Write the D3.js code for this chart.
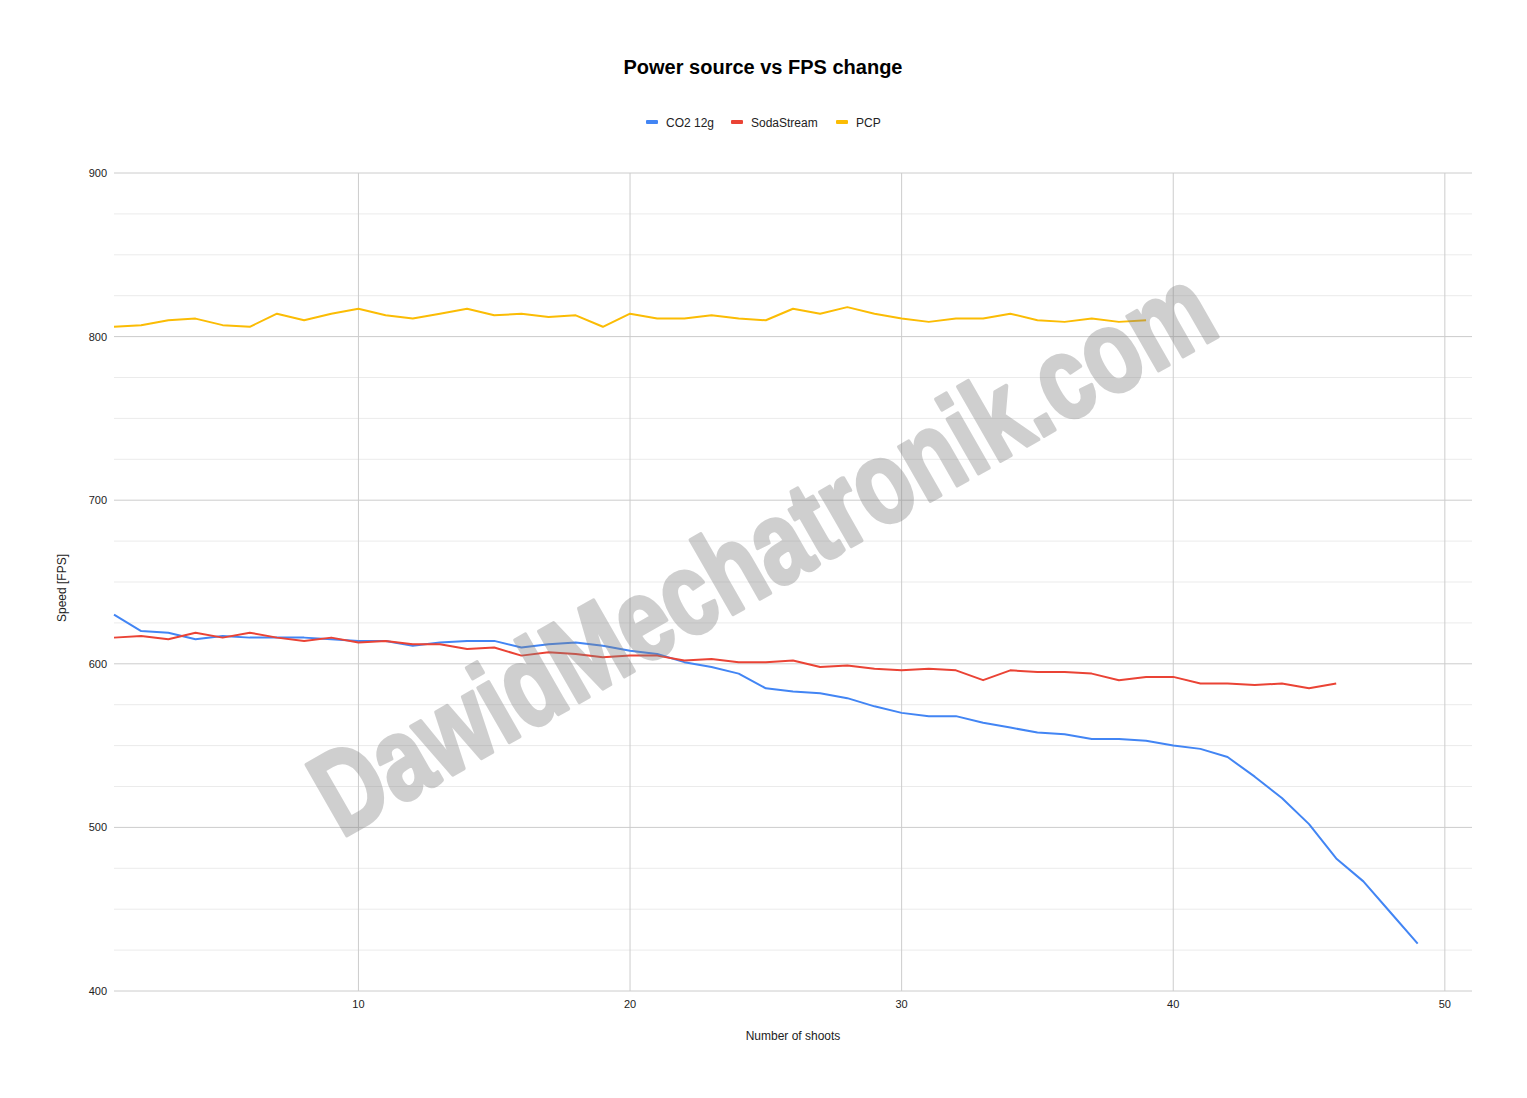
<!DOCTYPE html>
<html><head><meta charset="utf-8">
<script src="https://cdn.jsdelivr.net/npm/d3@7"></script>
<style>body{margin:0;background:#fff;}svg{display:block;font-family:"Liberation Sans",Arial,sans-serif;}</style>
</head><body><div id="chart"></div>
<script>
const title = "Power source vs FPS change";
const xTitle = "Number of shoots";
const yTitle = "Speed [FPS]";
const seriesNames = ["CO2 12g", "SodaStream", "PCP"];
const seriesColors = ["#4285F4", "#EA4335", "#FBBC04"];
const co2 = [630,620,619,615,617,616,616,616,615,614,614,611,613,614,614,610,612,613,611,608,606,601,598,594,585,583,582,579,574,570,568,568,564,561,558,557,554,554,553,550,548,543,531,518,502,481,467,448,429];
const soda = [616,617,615,619,616,619,616,614,616,613,614,612,612,609,610,605,607,606,604,605,605,602,603,601,601,602,598,599,597,596,597,596,590,596,595,595,594,590,592,592,588,588,587,588,585,588];
const pcp = [806,807,810,811,807,806,814,810,814,817,813,811,814,817,813,814,812,813,806,814,811,811,813,811,810,817,814,818,814,811,809,811,811,814,810,809,811,809,810];
const xTicks = [10,20,30,40,50];
const yTicks = [400,500,600,700,800,900];
const yMinor = [425,450,475,525,550,575,625,650,675,725,750,775,825,850,875];
const watermark = "DawidMechatronik.com";

const W = 1527, H = 1098;
const svg = d3.select("#chart").append("svg").attr("width", W).attr("height", H);
const x = d3.scaleLinear().domain([1, 51]).range([114, 1472]);
const y = d3.scaleLinear().domain([400, 900]).range([991, 173]);

svg.append("g").selectAll("line").data(yMinor).join("line")
  .attr("x1", 114).attr("x2", 1472).attr("y1", d => y(d)).attr("y2", d => y(d))
  .attr("stroke", "#ebebeb").attr("stroke-width", 1);
svg.append("g").selectAll("line").data(yTicks).join("line")
  .attr("x1", 114).attr("x2", 1472).attr("y1", d => y(d)).attr("y2", d => y(d))
  .attr("stroke", "#cccccc").attr("stroke-width", 1);
svg.append("g").selectAll("line").data(xTicks).join("line")
  .attr("x1", d => x(d)).attr("x2", d => x(d)).attr("y1", 173).attr("y2", 991)
  .attr("stroke", "#cccccc").attr("stroke-width", 1);

svg.append("g").selectAll("text").data(yTicks).join("text")
  .attr("x", 107).attr("y", d => y(d) + 4).attr("text-anchor", "end")
  .attr("font-size", 11).attr("fill", "#222").text(d => d);
svg.append("g").selectAll("text").data(xTicks).join("text")
  .attr("x", d => x(d)).attr("y", 1008).attr("text-anchor", "middle")
  .attr("font-size", 11).attr("fill", "#222").text(d => d);

svg.append("text").attr("x", 793).attr("y", 1040).attr("text-anchor", "middle")
  .attr("font-size", 12).attr("fill", "#222").text(xTitle);
svg.append("text").attr("transform", "translate(66,588) rotate(-90)").attr("text-anchor", "middle")
  .attr("font-size", 12).attr("fill", "#222").text(yTitle);

svg.append("text").attr("x", 763).attr("y", 74).attr("text-anchor", "middle")
  .attr("font-size", 20).attr("font-weight", "bold").attr("fill", "#000").text(title);

const legendX = [646, 731, 836];
const lg = svg.append("g");
seriesNames.forEach((n, i) => {
  lg.append("rect").attr("x", legendX[i]).attr("y", 120).attr("width", 12).attr("height", 4)
    .attr("rx", 1).attr("fill", seriesColors[i]);
  lg.append("text").attr("x", legendX[i] + 20).attr("y", 127).attr("font-size", 12)
    .attr("fill", "#222").text(n);
});

const line = d3.line().x((d, i) => x(i + 1)).y(d => y(d));
[co2, soda, pcp].forEach((s, i) => {
  svg.append("path").datum(s).attr("d", line).attr("fill", "none")
    .attr("stroke", seriesColors[i]).attr("stroke-width", 2).attr("stroke-linejoin", "round");
});

svg.append("g").attr("opacity", 0.37).append("text")
  .attr("transform", "translate(782,586) rotate(-29.8)")
  .attr("text-anchor", "middle")
  .attr("font-family", "'Liberation Sans Narrow','Arial Narrow','Liberation Sans',sans-serif")
  .attr("font-weight", "bold").attr("font-size", 118)
  .attr("textLength", 1016).attr("lengthAdjust", "spacingAndGlyphs")
  .attr("fill", "#808080").attr("stroke", "#808080").attr("stroke-width", 4).attr("stroke-linejoin", "round")
  .text(watermark);
</script></body></html>
